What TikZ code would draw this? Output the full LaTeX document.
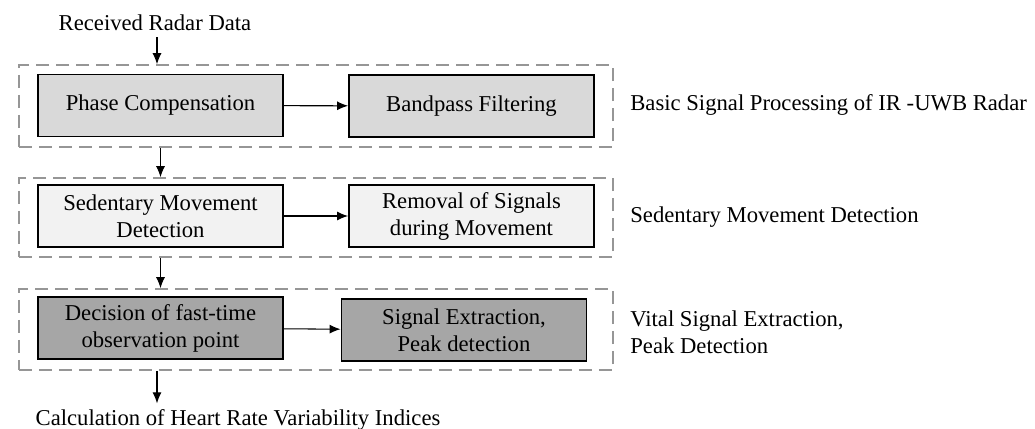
\documentclass[tikz,border=0pt]{standalone}
\usepackage{fontspec}
\setmainfont{Liberation Serif}
\usepackage{tikz}
\usetikzlibrary{arrows.meta,calc}
\definecolor{stageLight}{RGB}{217, 217, 217}
\definecolor{stagePale}{RGB}{242, 242, 242}
\definecolor{stageDark}{RGB}{166, 166, 166}
\definecolor{groupGray}{RGB}{150, 150, 150}

\begin{document}
\begin{tikzpicture}[x=0.02cm, y=-0.02cm,
  font=\fontsize{12.9}{15.4}\selectfont,
  stepbox/.style={draw, line width=1.1pt, minimum width=4.9cm, minimum height=1.24cm,
    align=center, inner sep=0pt},
  groupbox/.style={draw=groupGray, line width=0.9pt, dash pattern=on 0.26cm off 0.14cm,
    minimum width=11.88cm, inner sep=0pt},
  flow/.style={-{Latex[length=0.22cm,width=0.18cm]}, line width=0.6pt}]
  \useasboundingbox (0,0) rectangle (1035,429);

  % stage groups (dashed)
  \node[groupbox, minimum height=1.64cm] (g1) at (316,106) {};
  \node[groupbox, minimum height=1.58cm] (g2) at (316,217.5) {};
  \node[groupbox, minimum height=1.62cm] (g3) at (316,329.5) {};

  % 1. basic processing
  \node[stepbox, fill=stageLight] (pc) at (160.5,105.5) {Phase Compensation};
  \node[stepbox, fill=stageLight] (bp) at (471.5,106) {Bandpass Filtering};
  \draw[flow] (pc) -- (bp);

  % 2. movement detection
  \node[stepbox, fill=stagePale] (smd) at (160.5,216) {Sedentary Movement\\Detection};
  \node[stepbox, fill=stagePale] (rem) at (471.5,216) {Removal of Signals\\during Movement};
  \draw[flow] (smd) -- (rem);

  % 3. vital signal extraction
  \node[stepbox, fill=stageDark] (dec) at (160.5,328) {Decision of fast-time\\observation point};
  \node[stepbox, fill=stageDark] (sig) at (464,330) {Signal Extraction,\\Peak detection};
  \draw[flow] (dec) -- (sig);

  % input / output
  \node (recv) at (155,23) {Received Radar Data};
  \node (calc) at (238,420) {Calculation of Heart Rate Variability Indices};
  \coordinate (inx) at (157,0);
  \draw[flow] (recv.south -| inx) -- (g1.north -| inx);
  \draw[flow] (g1.south -| pc) -- (g2.north -| pc);
  \draw[flow] (g2.south -| pc) -- (g3.north -| pc);
  \draw[flow] (g3.south -| inx) -- (calc.north -| inx);

  % stage labels
  \node[anchor=west, inner sep=0pt] (l1) at (630,105) {Basic Signal Processing of IR -UWB Radar};
  \node[anchor=west, inner sep=0pt] (l2) at (630,217) {Sedentary Movement Detection};
  \node[anchor=west, inner sep=0pt, align=left] (l3) at (630,332) {Vital Signal Extraction,\\Peak Detection};
\end{tikzpicture}
\end{document}
